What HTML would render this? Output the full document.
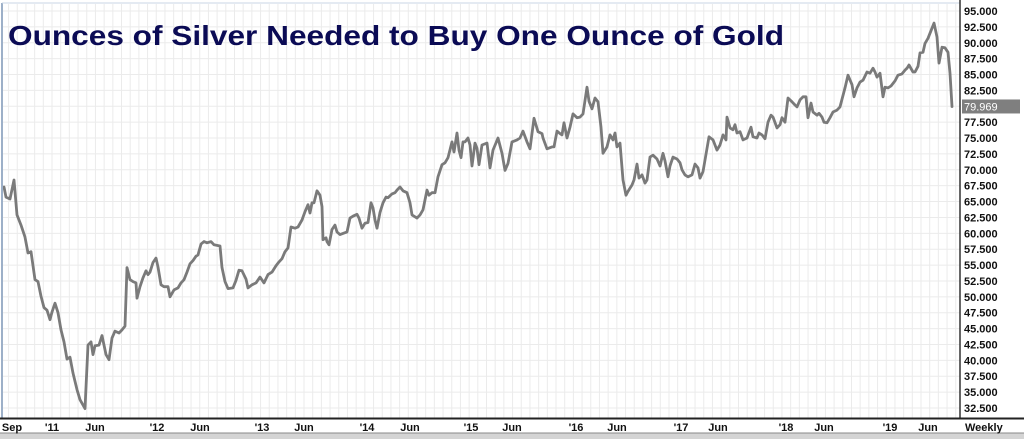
<!DOCTYPE html>
<html><head><meta charset="utf-8"><style>
html,body{margin:0;padding:0;background:#fff;}
body{width:1024px;height:439px;overflow:hidden;font-family:"Liberation Sans",Arial,sans-serif;}
</style></head><body>
<svg id="chart" width="1024" height="439" viewBox="0 0 1024 439" xmlns="http://www.w3.org/2000/svg">
<rect x="0" y="0" width="1024" height="439" fill="#ffffff"/>
<g id="grid"></g>
<g id="series"></g>
<line x1="2" y1="3" x2="2" y2="418" stroke="#9db0c8" stroke-width="2"/>
<line x1="2" y1="3" x2="960" y2="3" stroke="#c8d4e4" stroke-width="1"/>
<line x1="960" y1="0" x2="960" y2="419" stroke="#333" stroke-width="1.5"/>
<line x1="0" y1="418.5" x2="1024" y2="418.5" stroke="#222" stroke-width="2"/>
<rect x="0" y="433" width="1024" height="6" fill="#d4d4d4"/>
<line x1="0" y1="433" x2="1024" y2="433" stroke="#888" stroke-width="1"/>
<text x="8" y="45" font-family="Liberation Sans, Arial, sans-serif" font-weight="bold" font-size="28" fill="#0b0b55" textLength="776" lengthAdjust="spacingAndGlyphs">Ounces of Silver Needed to Buy One Ounce of Gold</text>
<g id="yticks"></g>
<g id="xticks"></g>
<text x="965" y="431" font-size="11" font-weight="bold" fill="#111">Weekly</text>
</svg>
<script>
// weeks since start of chart (Sep 2010)
const weeks = [0,1,3,5,6.5,8.5,10.5,12,13.5,15.5,17,18.5,20,21.5,23,24,25.5,27,28.5,30,31.5,33,34.5,36.5,38,40.5,42,43.5,44.5,45.5,47.5,49,51,52.5,54,55.5,57.5,59,60.5,61.5,63,64.5,66,66.5,68,69.5,71,72,73,74.5,76,77,78.5,80,82,83,85,87,88.5,90,91.5,93,94.5,96,97,98.5,100,101.5,103.5,105,108,109,110.5,112,114.5,116,117.5,119,121,122,124,126,128,130,132,134,136,137.5,139,140.5,142,143.5,145.5,147,149,150.5,152,153,154,155,156.5,158,159,159.5,161,161.5,162.5,164,165.5,166.5,168,170.5,171.5,173,174.5,176.5,177.5,179,180.5,182,183.5,184.5,185.5,186.5,188,189.5,191,192,194,195.5,196.5,198,199.5,201.5,203,204,206.5,208,209.5,211.5,212.5,214,215.5,217,219,220.5,222,224,225,226.5,227.5,228.5,229.5,230.5,232,233,234,235.5,236.5,237.5,239,241.5,243,244.5,247,249,250.5,252,254,256.5,258,259.5,261.5,263,265,267,269,269.5,271.5,274,275,276.5,278,279,280,281.5,283,284.5,286.5,288,289.5,291.5,292.5,294,295.5,297,298.5,299.5,301.5,303,304.5,305.5,306.5,308,309.5,311,312,314,315,316.5,317.5,319,320.5,321.5,323,324.5,326.5,328,329.5,330.5,332,333,334.5,336.5,338,339,340.5,342,344,345.5,347,348,349.5,352.5,354.5,356.5,358,359.5,361,361.5,363,364.5,365.5,366.5,368,369.5,371.5,373.5,374.5,376.5,377.5,379,380.5,382,383.5,384.5,386.5,388,389,390.5,392,394,395.5,396.5,398,399.5,401,402,403.5,404.5,406.5,407.5,409,410,411.5,413,414.5,416.5,418,420.5,422,424,425,426.5,428,429.5,431.5,433,434.5,435.5,436.5,438,439.5,440.5,442,443.5,445.5,447,449,450.5,451.5,452.5,454.5,455.5,457,458,459.5,460.5,462,464,465,466.5,467.5,469,470.5,472,473,474];
const ratio = [67.3,65.7,65.4,68.4,62.9,61.3,59.4,56.9,57.1,52.7,52.4,50.1,48.3,47.9,46.4,47.6,49.0,47.5,44.8,42.9,40.2,40.5,38.0,35.4,33.8,32.4,42.4,42.9,40.9,42.3,42.4,43.9,40.9,40.1,43.5,44.6,44.3,44.8,45.4,54.6,52.7,52.4,52.2,49.8,51.6,53.0,54.1,53.5,53.9,55.4,56.1,54.7,51.9,51.6,51.6,50.0,51.1,51.4,52.2,52.7,53.9,55.2,55.7,56.4,56.6,58.3,58.7,58.5,58.7,58.2,58.0,54.6,52.4,51.3,51.4,52.6,54.2,54.1,52.8,51.4,51.9,52.2,53.1,52.2,53.5,53.9,54.9,55.5,56.0,57.1,57.7,61.0,60.8,61.0,62.1,63.4,64.5,63.2,64.8,64.8,66.7,66.0,64.2,59.0,59.3,58.7,58.2,60.6,61.3,60.2,59.8,60.1,60.2,62.4,62.7,63.0,62.4,60.8,61.6,61.7,64.8,64.0,62.1,60.8,63.3,64.8,65.7,65.6,66.2,66.4,66.8,67.3,66.7,66.4,64.8,62.9,62.4,62.9,63.7,66.8,66.0,66.4,66.4,68.9,70.8,71.1,71.9,74.4,72.8,75.8,73.1,71.9,74.4,74.4,75.0,73.9,70.6,74.2,73.4,70.8,73.9,74.2,70.3,73.1,75.0,72.6,69.9,71.0,74.4,74.7,75.0,76.1,74.4,73.3,78.1,76.0,75.7,75.0,73.3,73.6,73.6,76.1,75.7,75.5,77.4,75.0,76.7,78.8,78.2,78.3,78.8,83.0,80.8,79.6,81.3,80.7,76.7,72.6,73.6,75.5,74.7,75.8,73.6,74.2,68.4,66.0,66.6,67.6,68.4,70.9,68.7,69.2,67.9,68.4,72.0,72.3,71.7,70.6,72.6,71.4,68.9,70.6,72.0,71.7,71.1,70.0,69.2,68.9,69.2,70.9,70.3,68.7,69.7,75.2,74.7,73.1,73.9,75.5,74.7,78.3,76.6,76.3,77.1,75.8,76.0,74.7,75.0,76.7,75.2,75.0,75.8,75.5,74.9,77.5,78.6,78.3,76.6,77.1,78.2,77.5,81.3,80.7,80.2,79.9,81.0,81.5,81.5,78.2,80.5,79.1,78.6,78.9,78.3,77.5,77.4,78.2,79.1,79.4,79.9,82.9,84.9,83.4,81.5,82.9,83.8,84.1,85.4,85.2,86.0,85.4,84.6,85.2,81.5,83.0,82.9,83.2,84.0,84.9,85.1,85.7,86.0,86.5,85.4,85.4,86.3,88.4,88.5,89.9,90.7,92.3,93.1,90.9,86.8,89.3,89.2,88.5,85.2,79.969];
const yTickValues = [95,92.5,90,87.5,85,82.5,80,77.5,75,72.5,70,67.5,65,62.5,60,57.5,55,52.5,50,47.5,45,42.5,40,37.5,35,32.5];
const xTickLabels = ["Sep","'11","Jun","'12","Jun","'13","Jun","'14","Jun","'15","Jun","'16","Jun","'17","Jun","'18","Jun","'19","Jun"];
const xTickWeeks = [4,24,45.5,76.5,98,129,150,181.5,203,233.5,254,286,306.5,338.5,357,391,410,443,462];
const lastValue = 79.969;

const NS = "http://www.w3.org/2000/svg";
function xScale(w){ return 4 + w * 2.0; }
function yScale(v){ return 11 + (95 - v) * 6.352; }
function mk(tag, attrs, parent){ const e = document.createElementNS(NS, tag); for (const k in attrs) e.setAttribute(k, attrs[k]); parent.appendChild(e); return e; }

const grid = document.getElementById('grid');
// horizontal grid
for (let i = 0; i < yTickValues.length; i++) {
  const y = yScale(yTickValues[i]);
  const l = mk('line', {x1: 3, x2: 960, y1: y, y2: y, stroke: '#ebebeb', 'stroke-width': 1}, grid);
  
  
}
// monthly vertical grid
for (let m = -5; m < 110; m++) {
  const x = xScale(24 + m * 4.345);
  if (x < 3 || x > 959) continue;
  const l = mk('line', {x1: x, x2: x, y1: 4, y2: 418, stroke: '#ebebeb', 'stroke-width': 1}, grid);
  
  
}

// series
let d = '';
for (let i = 0; i < weeks.length; i++) {
  d += (i ? 'L' : 'M') + xScale(weeks[i]).toFixed(1) + ',' + yScale(ratio[i]).toFixed(1);
}
const path = mk('path', {d: d, fill: 'none', stroke: '#7a7a7a', 'stroke-width': 2.8, 'stroke-linejoin': 'round', 'stroke-linecap': 'round'}, document.getElementById('series'));



// y ticks
const yt = document.getElementById('yticks');
for (let i = 0; i < yTickValues.length; i++) {
  const v = yTickValues[i];
  const y = yScale(v);
  if (Math.abs(y - yScale(lastValue)) < 6) continue;
  const t = mk('text', {x: 964, y: y + 4, 'font-size': 11, 'font-weight': 'bold', fill: '#111'}, yt);
  t.textContent = v.toFixed(3);
  
  
}
const ly = yScale(lastValue);
const tag = mk('rect', {x: 962, y: ly - 7, width: 58, height: 14, fill: '#7f7f7f'}, yt);


const tagText = mk('text', {x: 964, y: ly + 4, 'font-size': 11, fill: '#ffffff'}, yt);
tagText.textContent = lastValue.toFixed(3);



// x ticks
const xt = document.getElementById('xticks');
for (let i = 0; i < xTickLabels.length; i++) {
  const t = mk('text', {x: xScale(xTickWeeks[i]), y: 431, 'font-size': 11, 'font-weight': 'bold', fill: '#111', 'text-anchor': 'middle'}, xt);
  t.textContent = xTickLabels[i];
  
  
}
</script>
</body></html>
